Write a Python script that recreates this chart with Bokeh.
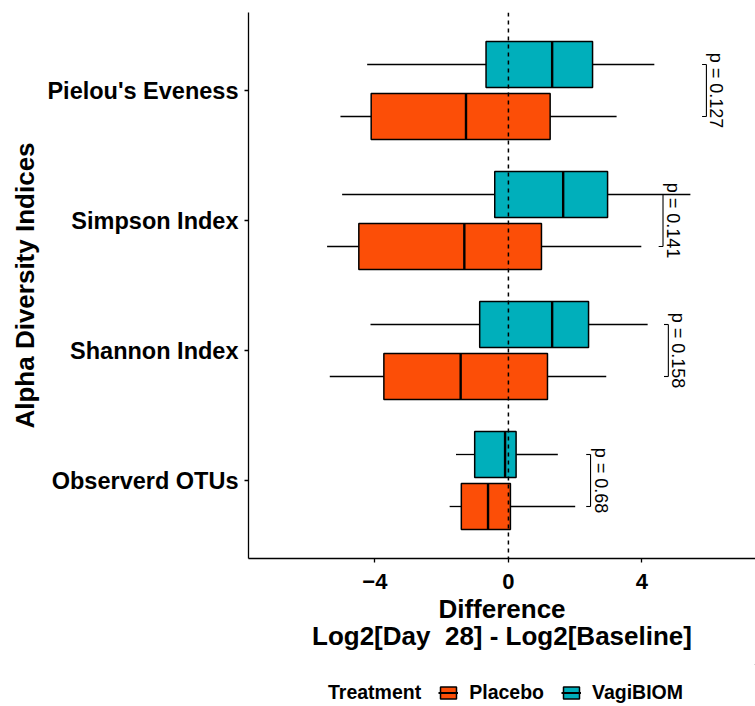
import math
from bokeh.plotting import figure
from bokeh.layouts import column
from bokeh.models import Range1d, FixedTicker, Span, Legend, LegendItem, LinearAxis
from bokeh.embed import file_html
from bokeh.resources import INLINE
from bokeh.core.properties import value

# ---------------- data (bottom to top) ----------------
categories = ["Observerd OTUs", "Shannon Index", "Simpson Index", "Pielou's Eveness"]
groups = ["Placebo", "VagiBIOM"]

placebo_lo = [-1.76, -5.35, -5.43, -5.03]
placebo_q1 = [-1.41, -3.73, -4.48, -4.11]
placebo_med = [-0.61, -1.43, -1.32, -1.27]
placebo_q3 = [0.06, 1.17, 0.99, 1.25]
placebo_hi = [2.00, 2.93, 3.98, 3.24]

vagi_lo = [-1.57, -4.13, -4.98, -4.23]
vagi_q1 = [-1.01, -0.86, -0.41, -0.67]
vagi_med = [-0.10, 1.31, 1.64, 1.31]
vagi_q3 = [0.23, 2.40, 2.97, 2.52]
vagi_hi = [1.48, 4.17, 5.45, 4.37]

p_values = ["p = 0.68", "p = 0.158", "p = 0.141", "p = 0.127"]
bracket_x = [2.46, 4.79, 4.63, 5.93]
x_ticks = [-4, 0, 4]

# ---------------- styling ----------------
FONT = "Liberation Sans"
C_PLACEBO = "#FC4E07"
C_VAGI = "#00AFBB"
DODGE = 0.2
BOX_H = 0.355
TEXT_OFF = 0.30
TIP = 0.13

W, H_MAIN, H_LEG = 755, 664, 42
p = figure(width=W, height=H_MAIN, output_backend="svg", toolbar_location=None,
           x_range=Range1d(-7.784, 7.40), y_range=Range1d(0.4, 4.6),
           min_border_left=248, min_border_right=0, min_border_top=12,
           min_border_bottom=106)
p.xgrid.visible = False
p.ygrid.visible = False
p.outline_line_color = None
p.background_fill_color = "white"
p.border_fill_color = "white"

ypos = [i + 1 for i in range(len(categories))]
y_v = [y + DODGE for y in ypos]
y_p = [y - DODGE for y in ypos]


def draw_group(fig, yc, lo, q1, med, q3, hi, color):
    fig.segment(x0=lo, y0=yc, x1=q1, y1=yc, line_color="black", line_width=1.3)
    fig.segment(x0=q3, y0=yc, x1=hi, y1=yc, line_color="black", line_width=1.3)
    fig.hbar(y=yc, height=BOX_H, left=q1, right=q3, fill_color=color,
             line_color="black", line_width=1.5)
    fig.segment(x0=med, y0=[y - BOX_H / 2 for y in yc], x1=med,
                y1=[y + BOX_H / 2 for y in yc], line_color="black", line_width=2.4)


draw_group(p, y_p, placebo_lo, placebo_q1, placebo_med, placebo_q3, placebo_hi, C_PLACEBO)
draw_group(p, y_v, vagi_lo, vagi_q1, vagi_med, vagi_q3, vagi_hi, C_VAGI)

# zero reference line
p.add_layout(Span(location=0, dimension="height", line_color="black",
                  line_dash="4 4", line_width=1.5))

# p-value brackets and texts
p.segment(x0=bracket_x, y0=y_p, x1=bracket_x, y1=y_v, line_color="black", line_width=1.1)
p.segment(x0=bracket_x, y0=y_v, x1=[b - TIP for b in bracket_x], y1=y_v,
          line_color="black", line_width=1.1)
p.segment(x0=bracket_x, y0=y_p, x1=[b - TIP for b in bracket_x], y1=y_p,
          line_color="black", line_width=1.1)
p.text(x=[b + TEXT_OFF for b in bracket_x], y=ypos, text=p_values, angle=-math.pi / 2,
       text_align="center", text_baseline="middle", text_font=value(FONT),
       text_font_size="18px", text_color="black")


def style_axis(ax):
    ax.axis_line_color = "black"
    ax.axis_line_width = 1.3
    ax.major_tick_line_color = "black"
    ax.major_tick_line_width = 1.3
    ax.major_tick_out = 4
    ax.major_tick_in = 0
    ax.minor_tick_line_color = None
    ax.major_label_text_font = FONT
    ax.major_label_text_font_style = "bold"
    ax.major_label_text_color = "black"
    ax.axis_label_text_font = FONT
    ax.axis_label_text_font_style = "bold"
    ax.axis_label_text_font_size = "26px"
    ax.axis_label_text_color = "black"


style_axis(p.xaxis[0])
style_axis(p.yaxis[0])

p.xaxis.ticker = FixedTicker(ticks=x_ticks)
p.xaxis.major_label_text_font_size = "22px"
p.xaxis.major_label_standoff = 11
p.xaxis.axis_label = "Difference"
p.xaxis.axis_label_standoff = 2

# second line of the x title, as a bare axis below the first
x2 = LinearAxis(ticker=FixedTicker(ticks=[]), axis_label="Log2[Day \u00a028] - Log2[Baseline]")
style_axis(x2)
x2.axis_line_color = None
x2.major_tick_out = 0
x2.major_label_standoff = 0
x2.axis_label_standoff = -6
p.add_layout(x2, "below")

p.yaxis.ticker = FixedTicker(ticks=ypos)
p.yaxis.major_label_overrides = {y: c for y, c in zip(ypos, categories)}
p.yaxis.major_label_text_font_size = "23.5px"
p.yaxis.major_label_standoff = 6
p.yaxis.axis_label = "Alpha Diversity Indices"
p.yaxis.axis_label_standoff = 4

# ---------------- legend strip ----------------
q = figure(width=W, height=H_LEG, output_backend="svg", toolbar_location=None,
           x_range=Range1d(0, 1), y_range=Range1d(0, 1), min_border=0)
q.axis.visible = False
q.xgrid.visible = False
q.ygrid.visible = False
q.outline_line_color = None
q.background_fill_color = "white"
q.border_fill_color = "white"

# legend proxies: one row each, lying outside the strip's visible range
OFF = [5]
title_r = q.scatter(x=OFF, y=OFF, size=1, fill_alpha=0, line_alpha=0)
keys = []
for color in (C_PLACEBO, C_VAGI):
    b = q.hbar(y=OFF, height=0.5, left=OFF, right=[o + 1 for o in OFF], fill_color=color,
               line_color="black", line_width=1.5)
    m = q.segment(x0=OFF, y0=OFF, x1=[o + 1 for o in OFF], y1=OFF,
                  line_color="black", line_width=2.0)
    keys.append([b, m])

legend = Legend(items=[LegendItem(label="Treatment", renderers=[title_r]),
                       LegendItem(label=groups[0], renderers=keys[0]),
                       LegendItem(label=groups[1], renderers=keys[1])],
                orientation="horizontal", location=(49, 2),
                glyph_width=20, glyph_height=15, label_standoff=11, spacing=17,
                padding=0, margin=0, border_line_color=None, background_fill_alpha=0,
                label_text_font=FONT, label_text_font_style="bold",
                label_text_font_size="19.5px", label_text_color="black")
q.add_layout(legend)

open("out.html", "w").write(file_html(column(p, q, spacing=0), INLINE))
